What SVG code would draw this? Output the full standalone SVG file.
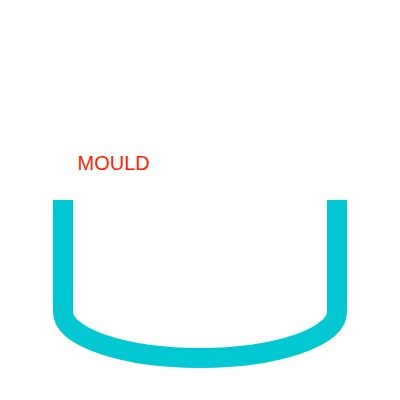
<svg xmlns="http://www.w3.org/2000/svg" width="400" height="400" viewBox="0 0 400 400">
<style>
.mould{fill:none;stroke:#00c8d3;stroke-width:20}
.lbl{font-family:"Liberation Sans",Arial,sans-serif;font-size:20px;fill:#ff2200}
</style>
<rect width="400" height="400" fill="#ffffff"/>
<g id="mould">
<path class="mould" d="M63,200 V312 A137,46 0 0 0 337,312 V200"/>
<text class="lbl" x="77.5" y="169.5">MOULD</text>
</g>
</svg>
